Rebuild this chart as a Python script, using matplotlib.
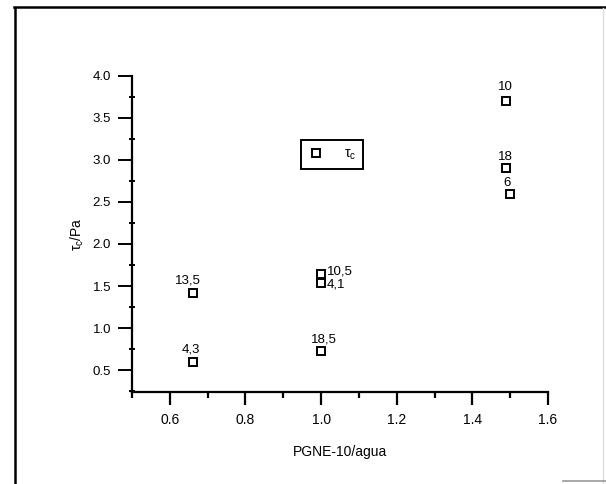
import matplotlib
matplotlib.use("Agg")
import matplotlib.pyplot as plt
from matplotlib.lines import Line2D
from matplotlib.ticker import MultipleLocator

plt.rcParams['font.family'] = ['Liberation Sans', 'DejaVu Sans']
plt.rcParams['mathtext.fontset'] = 'custom'
plt.rcParams['mathtext.rm'] = 'Liberation Sans'
plt.rcParams['mathtext.it'] = 'Liberation Sans'

# PGNE-10 / water ratio, critical stress and sample tags
ratio = [0.66, 0.66, 1.0, 1.0, 1.0, 1.49, 1.49, 1.50]
tau_c = [1.42, 0.60, 1.64, 1.54, 0.73, 3.70, 2.90, 2.59]
tags = ["13,5", "4,3", "10,5", "4,1", "18,5", "10", "18", "6"]

# label offsets in points (dx, dy) and alignment
offsets = [(-3, 9), (-1, 9), (4, 2), (4, -1), (2, 8), (-1, 10), (-1, 8), (-2, 8)]
aligns = ["center", "center", "left", "left", "center", "center", "center", "center"]

W, H = 606, 484
fig = plt.figure(figsize=(W / 100, H / 100), dpi=100)
ax = fig.add_axes([132 / W, 1 - 392 / H, 416 / W, (392 - 75.7) / H])

ax.plot(ratio, tau_c, linestyle="none", marker="s", markersize=5.3,
        markerfacecolor="white", markeredgecolor="black",
        markeredgewidth=1.4, label=r"$\tau_c$")

for x, y, t, off, ha in zip(ratio, tau_c, tags, offsets, aligns):
    ax.annotate(t, (x, y), xytext=off, textcoords="offset points",
                ha=ha, va="center", fontsize=9.5)

ax.set_xlim(0.5, 1.6)
ax.set_ylim(0.24, 4.0)
ax.xaxis.set_minor_locator(MultipleLocator(0.1))
ax.yaxis.set_minor_locator(MultipleLocator(0.25))
ax.set_xticks([0.6, 0.8, 1.0, 1.2, 1.4, 1.6])
ax.set_xticklabels(["0.6", "0.8", "1.0", "1.2", "1.4", "1.6"])
ax.set_yticks([0.5, 1.0, 1.5, 2.0, 2.5, 3.0, 3.5, 4.0])

for s in ("top", "right"):
    ax.spines[s].set_visible(False)
for s in ("left", "bottom"):
    ax.spines[s].set_linewidth(1.6)

ax.tick_params(axis="x", which="major", direction="out", length=9, width=1.6,
               pad=6, labelsize=10)
ax.tick_params(axis="x", which="minor", direction="out", length=4.5, width=1.6)
ax.tick_params(axis="y", which="major", direction="out", length=10, width=1.4,
               pad=5, labelsize=9.5)
ax.tick_params(axis="y", which="minor", direction="inout", length=5, width=1.4)

ax.set_xlabel("PGNE-10/agua", fontsize=10, labelpad=13)
ax.set_ylabel(r"$\tau_c$/Pa", fontsize=10, labelpad=5)

leg = ax.legend(loc="center", bbox_to_anchor=(0.48, 0.751), fancybox=False,
                edgecolor="black", fontsize=10, handlelength=1.2,
                handletextpad=1.4, borderpad=0.5, framealpha=1)
leg.get_frame().set_linewidth(1.4)

# page frame around the figure
fig.add_artist(Line2D([15 / W, 15 / W], [0, 1 - 8 / H], color="black",
                      linewidth=1.8, transform=fig.transFigure))
fig.add_artist(Line2D([14 / W, 1], [1 - 7 / H, 1 - 7 / H], color="black",
                      linewidth=1.8, transform=fig.transFigure))
fig.add_artist(Line2D([603 / W, 603 / W], [0, 1 - 8 / H], color="#dddddd",
                      linewidth=1.0, transform=fig.transFigure))
fig.add_artist(Line2D([563 / W, 1], [1 - 481 / H, 1 - 481 / H], color="#999999",
                      linewidth=1.2, transform=fig.transFigure))

fig.savefig("out.png", dpi=100)
